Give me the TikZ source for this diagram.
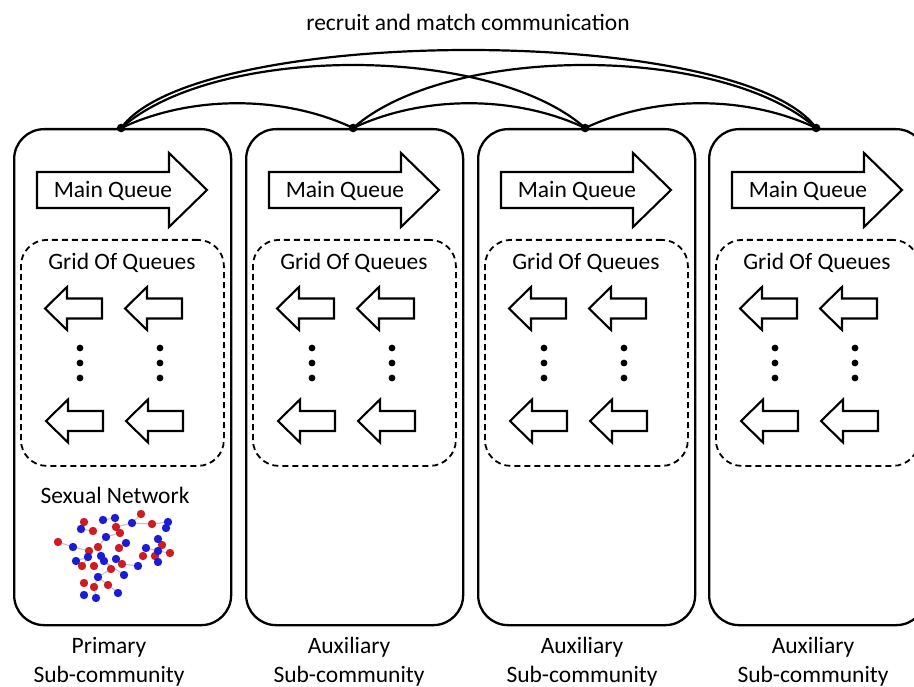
\documentclass[tikz,border=0pt]{standalone}
\usepackage{fontspec}
\setmainfont{Carlito}
\definecolor{netred}{RGB}{205,28,36}
\definecolor{netblue}{RGB}{28,28,210}
\begin{document}
\begin{tikzpicture}[x=1pt,y=-1pt,
  lbl/.style={font=\fontsize{23.5}{28}\selectfont, inner sep=0pt},
  community/.style={draw, line width=2.3pt, rounded corners=30pt,
    minimum width=217pt, minimum height=496pt, anchor=north west, inner sep=0pt},
  grid/.style={draw, line width=1.8pt, dash pattern=on 6pt off 4pt,
    rounded corners=26pt, minimum width=203pt, minimum height=226pt,
    anchor=north west, inner sep=0pt},
  qline/.style={draw, line width=2.1pt, line join=miter},
  link/.style={line width=2.2pt},
  edge/.style={draw=black!25, line width=1pt},
  mainq/.pic={\path[qline] (0,-18) -- (132,-18) -- (132,-37) -- (170,0)
      -- (132,37) -- (132,18) -- (0,18) -- cycle;},
  subq/.pic={\path[qline] (0,0) -- (22,-21.5) -- (22,-10) -- (57,-10)
      -- (57,10) -- (22,10) -- (22,21.5) -- cycle;}
]
\useasboundingbox (0,0) rectangle (914,687);
\clip (0,0) rectangle (914,687);

% four sub-communities with their queues
\foreach \i/\ox/\lx/\kind in {1/13/109/Primary, 2/245/349/Auxiliary,
                              3/477/582/Auxiliary, 4/708/813/Auxiliary}{
  \node[community] (box\i) at (\ox,128) {};
  \pic at (\ox+24,190) {mainq};
  \node[lbl] (mq\i) at (\ox+100,191) {Main Queue};
  \node[grid] (grid\i) at (\ox+7,239) {};
  \node[lbl] (gq\i) at (\ox+109,263) {Grid Of Queues};
  \foreach \dx in {32,112}{
    \pic at (\ox+\dx,308.5) {subq};
    \pic at (\ox+\dx+1,421) {subq};
    \foreach \dy in {348,363,378}
      \fill (\ox+\dx+35,\dy) circle (3.4pt);
  }
  \node[lbl] (kind\i) at (\lx,647) {\kind};
  \node[lbl] (sub\i) at (\lx,676) {Sub-community};
  \coordinate (j\i) at ([xshift=-1.5pt]box\i.north);
}

% recruit and match links between all sub-communities
\node[lbl] (title) at (468,22) {recruit and match communication};
\foreach \a/\b in {1/2,2/3,3/4}
  \draw[link] (j\a) .. controls +(70,-33) and +(-70,-33) .. (j\b);
\foreach \a/\b in {1/3,2/4}
  \draw[link] (j\a) .. controls +(95,-84) and +(-95,-84) .. (j\b);
\draw[link] (j1) .. controls +(75,-104) and +(-75,-104) .. (j4);
\foreach \i in {1,...,4}
  \fill (j\i) circle (4.3pt);

% sexual network of the primary sub-community
\node[lbl] (sn) at (115,495) {Sexual Network};
\foreach \k/\x/\y in {1/141/514, 2/84/522, 3/93/531, 4/116/527, 5/120/533,
  6/152/524, 7/58/542, 8/89/551, 9/98/547, 10/119/548, 11/143/556,
  12/155/556, 13/162/545, 14/170/553, 15/82/566, 16/94/566, 17/111/569,
  18/122/564, 19/84/583, 20/94/587, 21/108/585, 22/103/520, 23/115/518,
  24/132/523, 25/168/522, 26/166/528, 27/81/529, 28/106/537, 29/73/547,
  30/126/543, 31/146/548, 32/158/539, 33/158/562, 34/76/561, 35/88/557,
  36/101/556, 37/104/561, 38/116/559, 39/138/566, 40/124/575, 41/98/577,
  42/118/593, 43/84/595, 44/96/598, 45/158/551}
  \coordinate (n\k) at (\x,\y);
\foreach \a/\b in {7/29, 29/8, 23/4, 4/24, 24/6, 6/25, 5/28, 28/9, 9/36,
  35/15, 36/17, 38/18, 18/39, 17/41, 41/20, 41/21, 21/42, 20/44, 31/45,
  45/14, 32/13, 12/33, 34/35, 22/23, 37/40, 10/30, 3/27, 1/24}
  \draw[edge] (n\a) -- (n\b);
\foreach \k in {1,...,21}
  \fill[netred] (n\k) circle (4.2pt);
\foreach \k in {22,...,45}
  \fill[netblue] (n\k) circle (4.2pt);
\end{tikzpicture}
\end{document}
